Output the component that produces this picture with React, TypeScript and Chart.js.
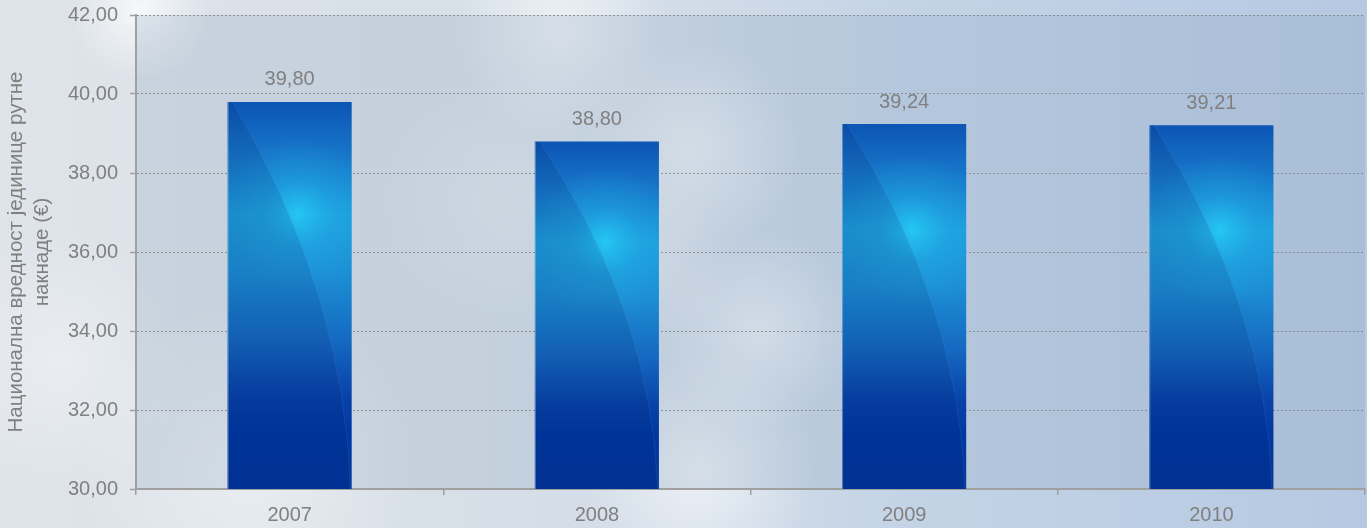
import React, { useEffect, useRef } from 'react';
import { Chart, registerables } from 'chart.js';

Chart.register(...registerables);

// ---- data ----
const categories = ['2007', '2008', '2009', '2010'];
const values = [39.8, 38.8, 39.24, 39.21];
const yMin = 30;
const yMax = 42;
const yStep = 2;
const yTitle = ['Национална вредност јединице рутне', 'накнаде (€)'];

const FONT = "'Liberation Sans', Arial, sans-serif";
const TEXT = '#808080';
const fmt = (v: number) => v.toFixed(2).replace('.', ',');

// decorative cloud blobs for the sky background: [cx, cy, r, alpha]
const clouds: number[][] = [
  [140, 10, 70, 0.75],
  [560, 30, 110, 0.6],
  [690, 150, 110, 0.55],
  [640, 260, 90, 0.4],
  [760, 330, 100, 0.55],
  [700, 470, 120, 0.6],
  [520, 200, 140, 0.3],
  [250, 470, 170, 0.4],
  [60, 360, 130, 0.35],
];

const backgroundPlugin = {
  id: 'skyBg',
  beforeDraw(chart: any) {
    const { ctx, width, height, chartArea } = chart;
    ctx.save();
    const g = ctx.createLinearGradient(0, 0, width, 0);
    g.addColorStop(0, '#dfe4ea');
    g.addColorStop(0.3, '#d8e0e7');
    g.addColorStop(0.5, '#d2dce8');
    g.addColorStop(0.66, '#c4d4e6');
    g.addColorStop(1, '#b6c9e2');
    ctx.fillStyle = g;
    ctx.fillRect(0, 0, width, height);
    clouds.forEach(([cx, cy, r, a]) => {
      const rg = ctx.createRadialGradient(cx, cy, 0, cx, cy, r);
      rg.addColorStop(0, `rgba(255,255,255,${a})`);
      rg.addColorStop(1, 'rgba(255,255,255,0)');
      ctx.fillStyle = rg;
      ctx.fillRect(cx - r, cy - r, r * 2, r * 2);
    });
    if (chartArea) {
      ctx.fillStyle = 'rgba(120,150,180,0.2)';
      ctx.fillRect(chartArea.left, chartArea.top, chartArea.right - chartArea.left, chartArea.bottom - chartArea.top);
    }
    ctx.restore();
  },
};

const barDecorPlugin = {
  id: 'barDecor',
  afterDatasetsDraw(chart: any) {
    const { ctx, chartArea } = chart;
    const meta = chart.getDatasetMeta(0);
    ctx.save();
    meta.data.forEach((el: any, i: number) => {
      const { x, y, base, width } = el.getProps(['x', 'y', 'base', 'width'], true);
      const bottom = Math.min(base, chartArea.bottom);
      const left = x - width / 2;
      const h = bottom - y;
      ctx.save();
      ctx.beginPath();
      ctx.rect(left, y, width, h);
      ctx.clip();
      // radial highlight
      const hx = x + width * 0.07;
      const hy = y + h * 0.29;
      const rg = ctx.createRadialGradient(hx, hy, 0, hx, hy, width * 0.62);
      rg.addColorStop(0, 'rgba(38,205,248,0.85)');
      rg.addColorStop(0.45, 'rgba(34,180,236,0.35)');
      rg.addColorStop(1, 'rgba(34,170,230,0)');
      ctx.fillStyle = rg;
      ctx.fillRect(left, y, width, h);
      // darker left region bounded by a curve
      ctx.beginPath();
      ctx.moveTo(left, y);
      ctx.lineTo(left + width * 0.04, y);
      ctx.quadraticCurveTo(left + width * 0.95, y + h * 0.5, left + width * 0.99, bottom);
      ctx.lineTo(left, bottom);
      ctx.closePath();
      ctx.fillStyle = 'rgba(0,25,90,0.13)';
      ctx.fill();
      ctx.beginPath();
      ctx.moveTo(left + width * 0.04, y);
      ctx.quadraticCurveTo(left + width * 0.95, y + h * 0.5, left + width * 0.99, bottom);
      ctx.strokeStyle = 'rgba(120,200,255,0.12)';
      ctx.lineWidth = 1;
      ctx.stroke();
      // thin light edge at left
      ctx.fillStyle = 'rgba(170,200,230,0.5)';
      ctx.fillRect(left, y, 1, h);
      ctx.restore();
      // value label
      ctx.fillStyle = TEXT;
      ctx.font = `20px ${FONT}`;
      ctx.textAlign = 'center';
      ctx.textBaseline = 'middle';
      ctx.fillText(fmt(values[i]), x, y - 22);
    });
    ctx.restore();
  },
};

export default function App() {
  const ref = useRef<HTMLCanvasElement | null>(null);

  useEffect(() => {
    document.body.style.margin = '0';
    const canvas = ref.current;
    if (!canvas) return;
    const chart = new Chart(canvas, {
      type: 'bar',
      data: {
        labels: categories,
        datasets: [
          {
            data: values,
            borderWidth: 0,
            categoryPercentage: 1,
            barPercentage: 0.404,
            backgroundColor: (c: any) => {
              const ch = c.chart;
              const sy = ch.scales && ch.scales.y;
              if (!sy || c.type !== 'data') return '#1a6fc4';
              const top = sy.getPixelForValue(values[c.dataIndex]);
              const bottom = sy.getPixelForValue(yMin);
              if (!isFinite(top) || !isFinite(bottom) || bottom <= top) return '#1a6fc4';
              const g = ch.ctx.createLinearGradient(0, top, 0, bottom);
              g.addColorStop(0, '#0c55b4');
              g.addColorStop(0.12, '#1672c6');
              g.addColorStop(0.29, '#1e9edc');
              g.addColorStop(0.45, '#1d8ed4');
              g.addColorStop(0.62, '#1568c0');
              g.addColorStop(0.76, '#0842a8');
              g.addColorStop(0.85, '#0038a0');
              g.addColorStop(1, '#00379c');
              return g;
            },
          } as any,
        ],
      },
      options: {
        animation: false,
        responsive: false,
        maintainAspectRatio: false,
        layout: { padding: { top: 0, right: 2, left: 0, bottom: 0 } },
        plugins: {
          legend: { display: false },
          tooltip: { enabled: false },
          title: { display: false },
        },
        scales: {
          x: {
            offset: true,
            grid: {
              display: true,
              drawOnChartArea: false,
              drawTicks: true,
              offset: true,
              tickLength: 6,
              color: '#a0a0a0',
              lineWidth: 1.5,
            },
            border: { display: true, color: '#a0a0a0', width: 2 },
            ticks: {
              color: TEXT,
              font: { family: FONT, size: 20 },
              padding: 8,
              maxRotation: 0,
            },
            afterFit: (s: any) => {
              s.height = 39;
            },
          },
          y: {
            min: yMin,
            max: yMax,
            grid: {
              color: 'rgba(128,128,128,0.8)',
              lineWidth: 1,
              tickLength: 6,
              tickColor: '#a0a0a0',
              tickWidth: 1.5,
            },
            border: { display: true, color: '#a0a0a0', width: 2, dash: [2, 2] },
            ticks: {
              stepSize: yStep,
              color: TEXT,
              font: { family: FONT, size: 20 },
              padding: 12,
              callback: (v: any) => fmt(Number(v)),
            },
            title: {
              display: true,
              text: yTitle,
              color: TEXT,
              font: { family: FONT, size: 20.5, lineHeight: 1.27 },
              padding: { top: 3, bottom: 0 },
            },
            afterFit: (s: any) => {
              s.width = 136;
              s.paddingTop = 15;
              s.paddingBottom = 0;
            },
          },
        },
      },
      plugins: [backgroundPlugin, barDecorPlugin],
    } as any);
    return () => chart.destroy();
  }, []);

  return (
    <div style={{ position: 'absolute', left: 0, top: 0, width: 1367, height: 528 }}>
      <canvas ref={ref} width={1367} height={528} style={{ display: 'block', width: 1367, height: 528 }} />
    </div>
  );
}
